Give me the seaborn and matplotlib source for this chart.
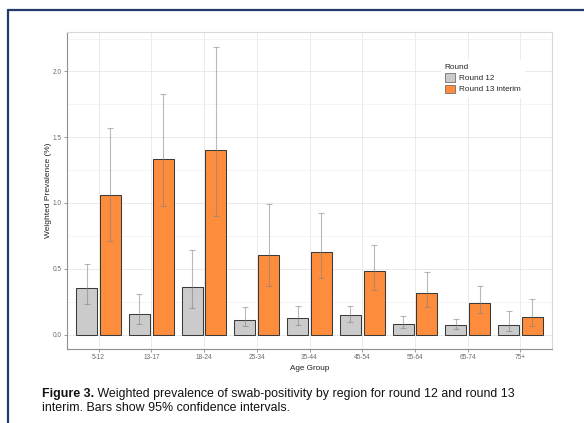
import matplotlib
matplotlib.use("Agg")
import matplotlib.pyplot as plt
from matplotlib.lines import Line2D
from matplotlib.patches import Patch
from matplotlib.ticker import MultipleLocator
import numpy as np
import pandas as pd
import seaborn as sns

# Weighted prevalence (%) with 95% CI by age group
age_groups = ["5-12", "13-17", "18-24", "25-34", "35-44", "45-54", "55-64", "65-74", "75+"]
rounds = ["Round 12", "Round 13 interim"]

r12_prev = [0.353, 0.159, 0.361, 0.114, 0.129, 0.146, 0.083, 0.073, 0.073]
r12_lower = [0.232, 0.080, 0.199, 0.063, 0.076, 0.098, 0.053, 0.043, 0.030]
r12_upper = [0.538, 0.308, 0.646, 0.212, 0.214, 0.220, 0.141, 0.121, 0.177]

r13_prev = [1.058, 1.336, 1.401, 0.603, 0.631, 0.480, 0.315, 0.242, 0.131]
r13_lower = [0.709, 0.974, 0.898, 0.368, 0.429, 0.341, 0.207, 0.161, 0.065]
r13_upper = [1.568, 1.828, 2.189, 0.992, 0.927, 0.684, 0.472, 0.368, 0.267]

y_ticks = [0.0, 0.5, 1.0, 1.5, 2.0]
y_tick_labels = ["0.0", "0.5", "1.0", "1.5", "2.0"]

caption_bold = "Figure 3."
caption_rest = (" Weighted prevalence of swab-positivity by region for round 12 and round 13")
caption_line2 = "interim. Bars show 95% confidence intervals."

colors = {"Round 12": "#cbcbcb", "Round 13 interim": "#fd8d3c"}

df = pd.DataFrame({
    "age": age_groups * 2,
    "round": [rounds[0]] * len(age_groups) + [rounds[1]] * len(age_groups),
    "prev": r12_prev + r13_prev,
    "lower": r12_lower + r13_lower,
    "upper": r12_upper + r13_upper,
})

sns.set_theme(style="white")
plt.rcParams["font.family"] = ["Liberation Sans", "DejaVu Sans"]

W, H = 584, 423
fig = plt.figure(figsize=(W / 100, H / 100), dpi=100)
ax = fig.add_axes([67 / W, 1 - 349 / H, (552 - 67) / W, (349 - 32) / H])

sns.barplot(data=df, x="age", y="prev", hue="round", order=age_groups,
            hue_order=rounds, palette=colors, saturation=1, width=0.9, gap=1 / 9,
            edgecolor="#3a3a3a", linewidth=0.75, errorbar=None,
            legend=False, ax=ax, zorder=2)

# confidence interval whiskers on every bar
for container, rnd in zip(ax.containers, rounds):
    sub = df[df["round"] == rnd].set_index("age").loc[age_groups]
    xs = [b.get_x() + b.get_width() / 2 for b in container]
    hs = np.array([b.get_height() for b in container])
    yerr = [hs - sub["lower"].values, sub["upper"].values - hs]
    ax.errorbar(xs, hs, yerr=yerr, fmt="none", ecolor="#808080", alpha=0.55,
                elinewidth=0.8, capsize=2.3, capthick=0.8, zorder=3)

ax.set_xlim(-0.6, len(age_groups) - 0.4)
ax.set_ylim(-0.11, 2.30)
ax.set_yticks(y_ticks)
ax.set_yticklabels(y_tick_labels)
ax.yaxis.set_minor_locator(MultipleLocator(0.25))

ax.set_axisbelow(True)
ax.grid(True, which="major", color="#e6e6e6", linewidth=0.6)
ax.grid(True, which="minor", axis="y", color="#f0f0f0", linewidth=0.5)

ax.tick_params(axis="both", which="major", length=2.2, width=0.6, color="#888888",
               labelsize=4.7, labelcolor="#6a6a6a", pad=1.5, bottom=True, left=True)
ax.tick_params(which="minor", length=0)

for side in ["left", "bottom"]:
    ax.spines[side].set_color("#8f8f8f")
    ax.spines[side].set_linewidth(0.8)
for side in ["top", "right"]:
    ax.spines[side].set_color("#d8d8d8")
    ax.spines[side].set_linewidth(0.8)

ax.set_xlabel("Age Group", fontsize=5.9, color="#222222", labelpad=2.5)
ax.set_ylabel("Weighted Prevalence (%)", fontsize=6.0, color="#222222", labelpad=0.5)

handles = [Patch(facecolor=colors[r], edgecolor="#5a5a5a", linewidth=0.5, label=r)
           for r in rounds]
leg = ax.legend(handles=handles, title="Round", loc="upper left",
                bbox_to_anchor=(0.762, 0.925), fontsize=5.9, title_fontsize=5.9,
                frameon=True, facecolor="white", edgecolor="none", framealpha=1,
                handlelength=1.25, handleheight=1.2, handletextpad=0.5,
                labelspacing=0.28, borderpad=0.5, alignment="left")
leg.get_frame().set_boxstyle("square", pad=0)

# document frame lines
frame_color = "#22396b"
fig.add_artist(Line2D([7.5 / W, 1.0], [1 - 10.5 / H, 1 - 10.5 / H],
                      transform=fig.transFigure, color=frame_color, linewidth=1.6))
fig.add_artist(Line2D([7.5 / W, 7.5 / W], [0.0, 1 - 10.5 / H],
                      transform=fig.transFigure, color=frame_color, linewidth=1.6))

# figure caption
cap_x = 41.5 / W
cap_size = 8.95
t1 = fig.text(cap_x, 1 - 396.5 / H, caption_bold, fontsize=cap_size, fontweight="bold",
              color="#111111", va="baseline", ha="left")
renderer = fig.canvas.get_renderer()
bb = t1.get_window_extent(renderer=renderer)
fig.text(bb.x1 / W, 1 - 396.5 / H, caption_rest, fontsize=cap_size, color="#111111",
         va="baseline", ha="left")
fig.text(cap_x, 1 - 411 / H, caption_line2, fontsize=cap_size, color="#111111",
         va="baseline", ha="left")

fig.savefig("out.png", dpi=100, facecolor="white")
